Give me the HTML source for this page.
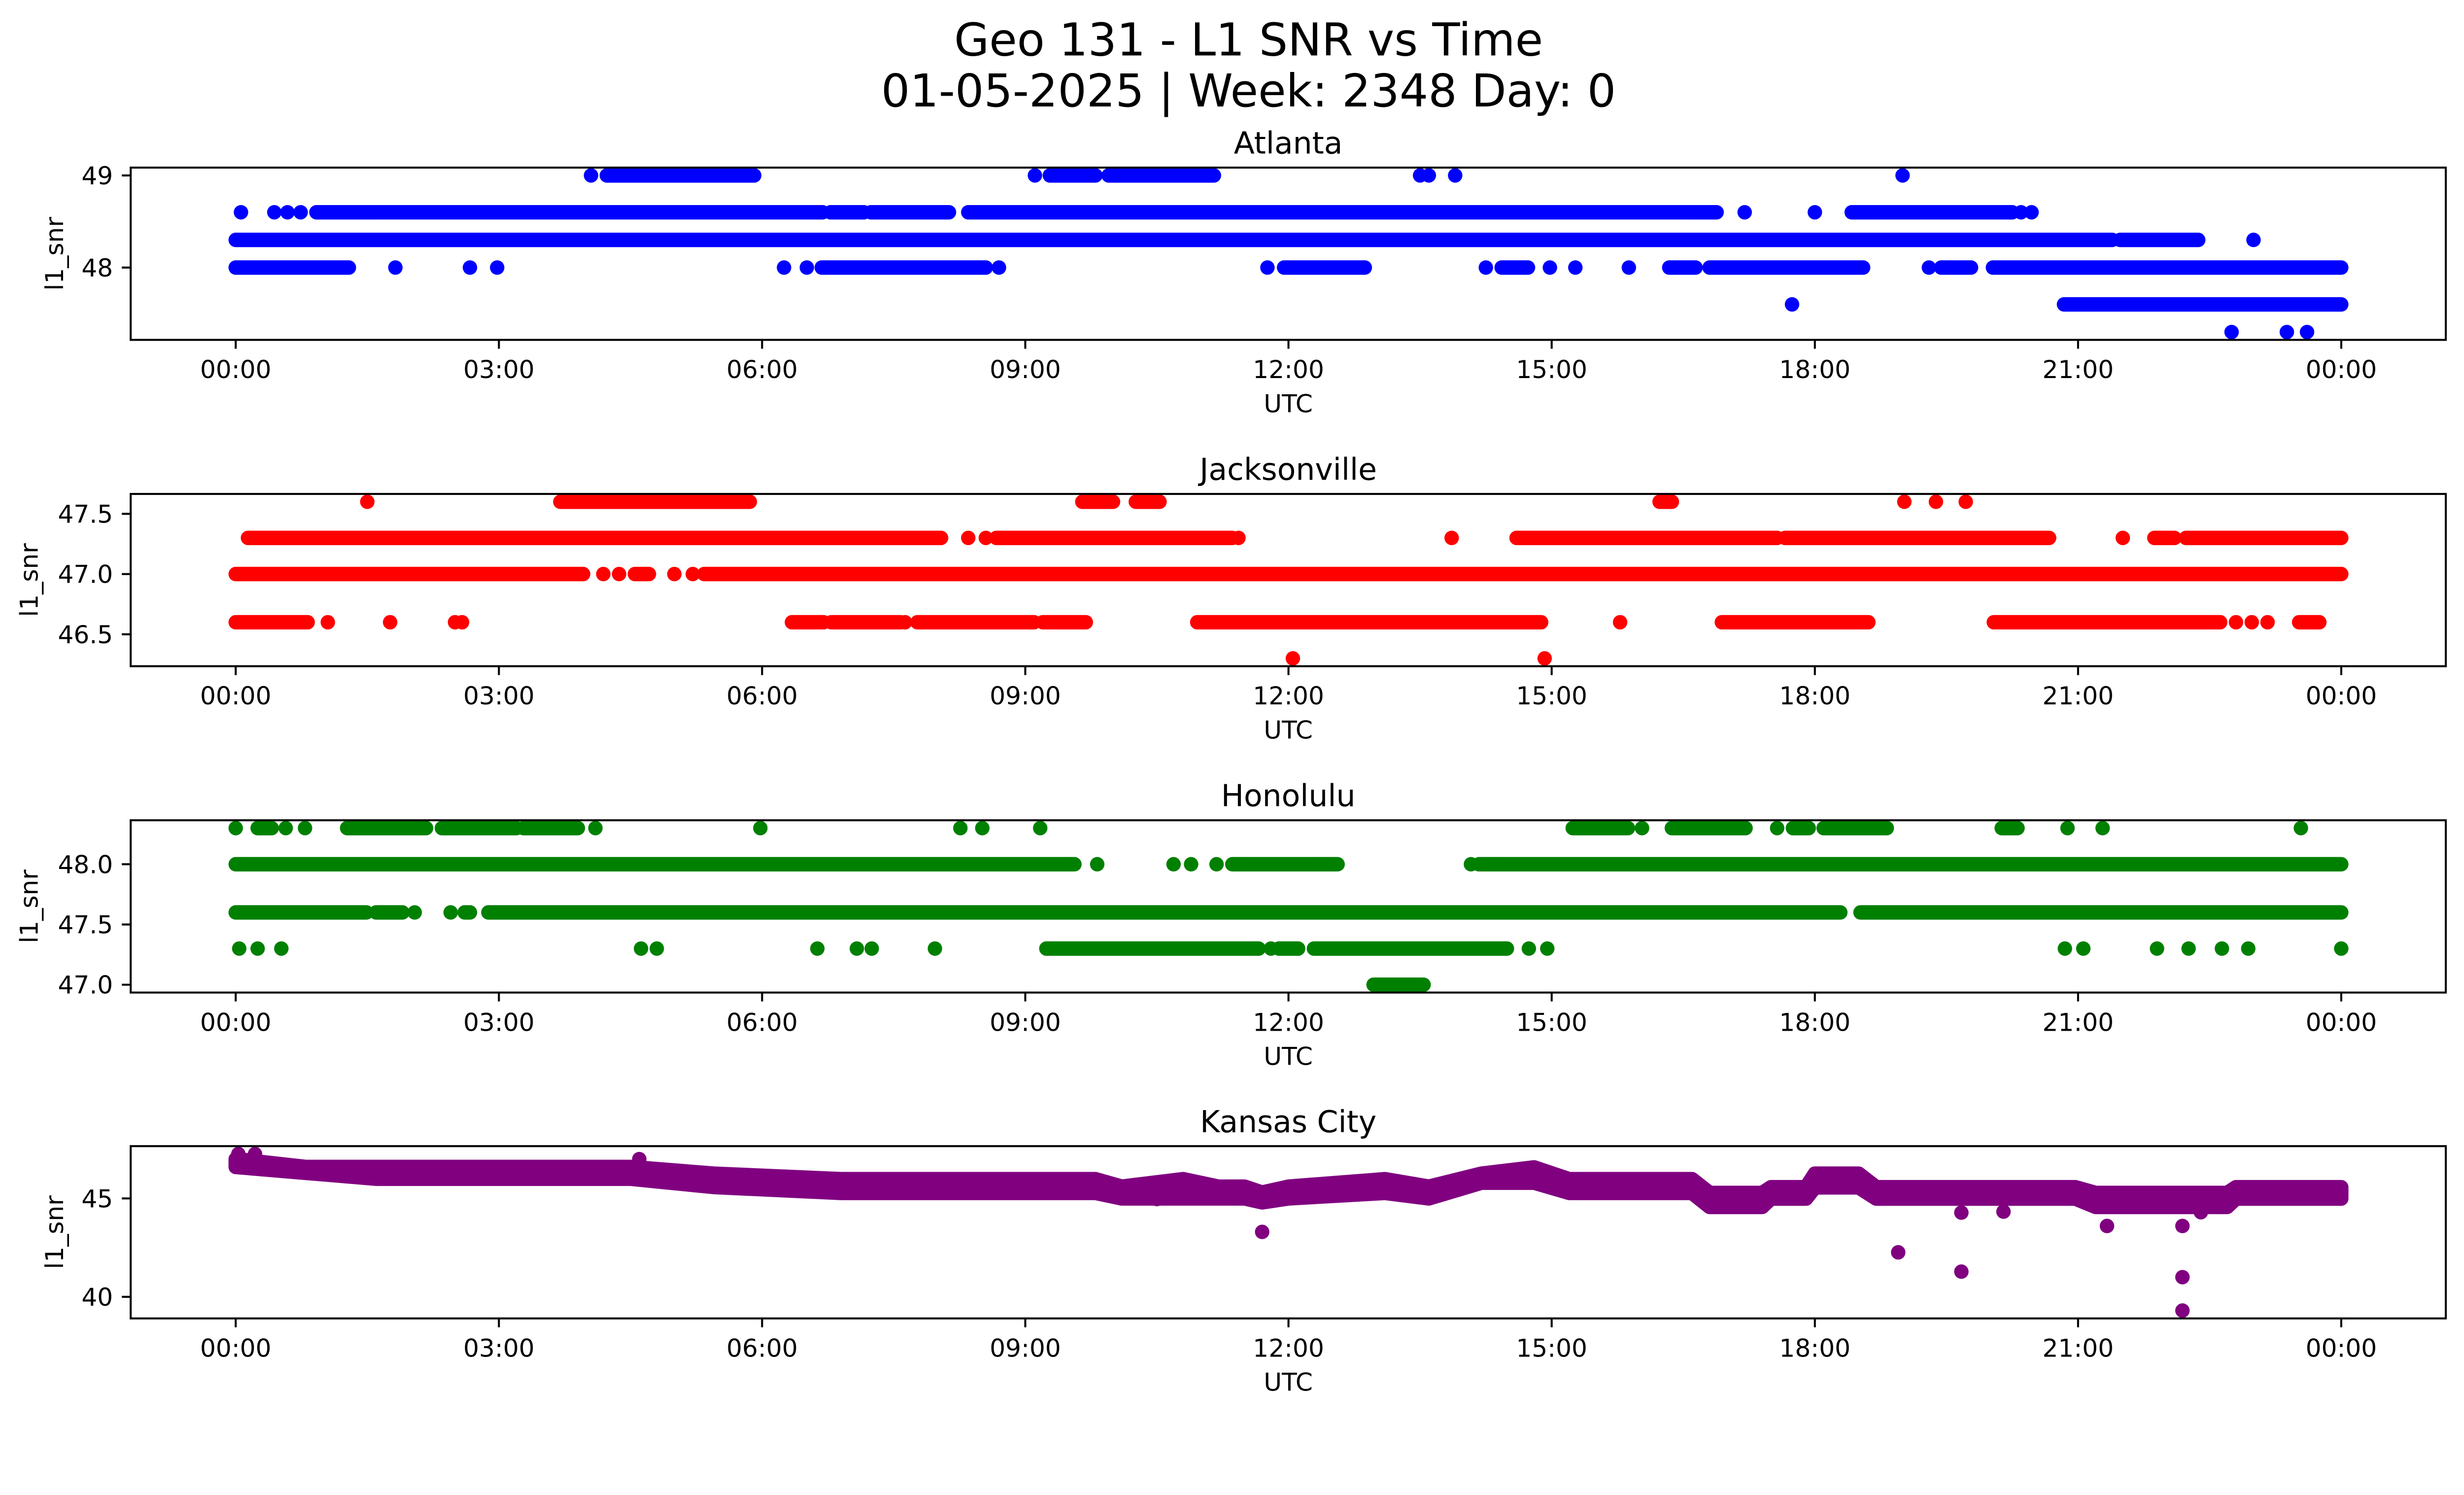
<!DOCTYPE html>
<html><head><meta charset="utf-8"><style>
html,body{margin:0;padding:0;background:#fff;overflow:hidden;}
svg{position:absolute;left:0;top:0;width:100vw;height:auto;display:block;font-family:"DejaVu Sans","Liberation Sans",sans-serif;}
</style></head><body>
<svg id="fig" viewBox="0 0 5279 3033" preserveAspectRatio="xMinYMin meet" xmlns="http://www.w3.org/2000/svg">
<rect width="5279" height="3033" fill="#fff"/>
<text x="2675" y="119" font-size="97" text-anchor="middle">Geo 131 - L1 SNR vs Time</text>
<text x="2675" y="228" font-size="97" text-anchor="middle">01-05-2025 | Week: 2348 Day: 0</text>
</svg>
<script>
// ---- shared axis data ----
const xTickHours = [0,3,6,9,12,15,18,21,24];
const xTickLabels = ["00:00","03:00","06:00","09:00","12:00","15:00","18:00","21:00","00:00"];

// ---- Atlanta ----
const atlRunStart = [4.23,9.28,9.95, 0.92,6.78,7.24,8.35,18.42, 0,21.48, 0,6.68,11.95,14.43,16.34,16.8,19.44,20.03, 20.84];
const atlRunEnd   = [5.91,9.80,11.15, 6.69,7.16,8.13,16.88,20.25, 21.39,22.37, 1.29,8.55,12.87,14.73,16.64,18.55,19.78,24, 24];
const atlRunVal   = [49,49,49, 48.6,48.6,48.6,48.6,48.6, 48.3,48.3, 48,48,48,48,48,48,48,48, 47.6];
const atlPtTime = [4.05,9.11,13.5,13.6,13.9,19.0, 0.06,0.44,0.59,0.74,17.2,18.0,20.35,20.47, 23.0, 1.82,2.67,2.98,6.25,6.51,8.70,11.76,14.25,14.98,15.27,15.88,19.3, 17.74, 22.75,23.38,23.61];
const atlPtVal  = [49,49,49,49,49,49, 48.6,48.6,48.6,48.6,48.6,48.6,48.6,48.6, 48.3, 48,48,48,48,48,48,48,48,48,48,48,48, 47.6, 47.3,47.3,47.3];
const atlYTicks = [48,49];
const atlYTickLabels = ["48","49"];

// ---- Jacksonville ----
const jaxRunStart = [3.7,9.65,10.26,16.23, 0.14,8.67,14.6,17.66,21.87,22.23, 0,4.55,5.34, 0,6.34,6.79,7.77,9.2,10.96,16.94,20.04,23.52];
const jaxRunEnd   = [5.86,10.0,10.53,16.37, 8.04,11.36,17.57,20.67,22.1,24, 3.96,4.71,24, 0.82,6.7,7.58,9.1,9.69,14.88,18.61,22.62,23.75];
const jaxRunVal   = [47.6,47.6,47.6,47.6, 47.3,47.3,47.3,47.3,47.3,47.3, 47,47,47, 46.6,46.6,46.6,46.6,46.6,46.6,46.6,46.6,46.6];
const jaxPtTime = [1.5,19.02,19.38,19.72, 8.35,8.55,11.43,13.86,21.51, 4.19,4.37,5.0,5.21, 1.05,1.76,2.5,2.58,7.63,15.78,22.8,22.98,23.16, 12.05,14.92];
const jaxPtVal  = [47.6,47.6,47.6,47.6, 47.3,47.3,47.3,47.3,47.3, 47,47,47,47, 46.6,46.6,46.6,46.6,46.6,46.6,46.6,46.6,46.6, 46.3,46.3];
const jaxYTicks = [46.5,47.0,47.5];
const jaxYTickLabels = ["46.5","47.0","47.5"];

// ---- Honolulu ----
const honRunStart = [0.25,1.27,2.35,3.28,15.24,16.37,17.75,18.1,20.13, 0,11.36,14.17, 0,1.6,2.61,2.88,18.52, 9.24,11.89,12.29, 12.97];
const honRunEnd   = [0.41,2.17,3.2,3.9,15.87,17.21,17.93,18.82,20.31, 9.56,12.56,24, 1.49,1.9,2.67,18.29,24, 11.66,12.11,14.49, 13.54];
const honRunVal   = [48.3,48.3,48.3,48.3,48.3,48.3,48.3,48.3,48.3, 48,48,48, 47.6,47.6,47.6,47.6,47.6, 47.3,47.3,47.3, 47.0];
const honPtTime = [0,0.57,0.79,4.1,5.98,8.26,8.51,9.17,16.03,17.57,20.88,21.28,23.54, 9.82,10.69,10.89,11.18,14.08, 2.04,2.45, 0.04,0.25,0.52,4.62,4.8,6.63,7.08,7.25,7.97,11.8,14.74,14.95,20.85,21.06,21.9,22.26,22.64,22.94,24.0];
const honPtVal  = [48.3,48.3,48.3,48.3,48.3,48.3,48.3,48.3,48.3,48.3,48.3,48.3,48.3, 48,48,48,48,48, 47.6,47.6, 47.3,47.3,47.3,47.3,47.3,47.3,47.3,47.3,47.3,47.3,47.3,47.3,47.3,47.3,47.3,47.3,47.3,47.3,47.3];
const honYTicks = [47.0,47.5,48.0];
const honYTickLabels = ["47.0","47.5","48.0"];

// ---- Kansas City (dense band: upper/lower envelope of point centres, plus outliers) ----
const kcBandTime = [0,0.8,1.6,4.5,5.45,6.9,9.8,10.1,10.8,11.2,11.5,11.7,12.0,13.1,13.6,14.2,14.8,15.2,16.6,16.8,17.4,17.5,17.9,18.0,18.5,18.7,20.97,21.2,22.7,22.8,24];
const kcBandHigh = [47.0,46.6,46.6,46.6,46.26,45.98,45.98,45.6,45.98,45.6,45.6,45.3,45.6,45.98,45.6,46.26,46.58,45.98,45.98,45.28,45.28,45.57,45.57,46.26,46.26,45.57,45.57,45.28,45.28,45.57,45.57];
const kcBandLow  = [46.6,46.3,46.0,46.0,45.58,45.28,45.28,45.0,45.0,45.0,45.0,44.8,45.0,45.28,45.0,45.8,45.8,45.28,45.28,44.57,44.57,44.99,44.99,45.56,45.56,44.99,44.99,44.57,44.57,44.99,44.99];
const kcPtTime = [0.03,0.22,4.6,10.5,11.7,18.95,19.67,19.67,20.15,21.33,22.19,22.19,22.19,22.4];
const kcPtVal  = [47.26,47.26,47.0,44.97,43.3,42.26,44.28,41.28,44.33,43.6,43.6,41.0,39.3,44.3];
const kcYTicks = [40,45];
const kcYTickLabels = ["40","45"];

// ---- layout ----
const NS = "http://www.w3.org/2000/svg";
const svg = document.getElementById("fig");
const AX_L = 280, AX_R = 5240, AX_H = 369;
const X0 = 505, PX_PER_H = (5016 - 505) / 24;
const DOT_R = 15.5;
function xScale(h){ return X0 + h * PX_PER_H; }
function mk(tag, attrs){ const e = document.createElementNS(NS, tag); for (const k in attrs) e.setAttribute(k, attrs[k]); return e; }

function drawPanel(cfg){
  const top = cfg.top, bot = top + AX_H;
  const g = mk("g", {});
  
  
  svg.appendChild(g);
  let vals = cfg.ptVal.concat(cfg.runVal || []);
  if (cfg.bandLo) vals = vals.concat(cfg.bandLo, cfg.bandHi);
  const mn = Math.min(...vals), mx = Math.max(...vals), r = mx - mn;
  const lo = mn - 0.05 * r, hi = mx + 0.05 * r;
  const yScale = v => bot - (v - lo) / (hi - lo) * AX_H;

  const title = mk("text", {x: (AX_L + AX_R) / 2, y: top - 30, "font-size": 65, "text-anchor": "middle"});
  
  
  title.textContent = cfg.title; g.appendChild(title);

  const marks = mk("g", {fill: cfg.color, stroke: "none"});
  
  
  g.appendChild(marks);

  if (cfg.bandT){
    let pts = [];
    for (let i = 0; i < cfg.bandT.length; i++) pts.push(xScale(cfg.bandT[i]) + "," + yScale(cfg.bandHi[i]));
    for (let i = cfg.bandT.length - 1; i >= 0; i--) pts.push(xScale(cfg.bandT[i]) + "," + yScale(cfg.bandLo[i]));
    const band = mk("polygon", {points: pts.join(" "), fill: cfg.color, stroke: cfg.color, "stroke-width": DOT_R * 2, "stroke-linejoin": "round"});
    
    
    marks.appendChild(band);
  }
  if (cfg.runStart){
    for (let i = 0; i < cfg.runStart.length; i++){
      const y = yScale(cfg.runVal[i]);
      const ln = mk("line", {x1: xScale(cfg.runStart[i]), x2: xScale(cfg.runEnd[i]), y1: y, y2: y, stroke: cfg.color, "stroke-width": DOT_R * 2, "stroke-linecap": "round"});
      
      
      marks.appendChild(ln);
    }
  }
  for (let i = 0; i < cfg.ptTime.length; i++){
    const c = mk("circle", {cx: xScale(cfg.ptTime[i]), cy: yScale(cfg.ptVal[i]), r: DOT_R});
    
    
    marks.appendChild(c);
  }

  const frame = mk("rect", {x: AX_L, y: top, width: AX_R - AX_L, height: AX_H, fill: "none", stroke: "#000", "stroke-width": 4.3});
  
  
  g.appendChild(frame);

  for (let i = 0; i < xTickHours.length; i++){
    const x = xScale(xTickHours[i]);
    const t = mk("line", {x1: x, x2: x, y1: bot, y2: bot + 19, stroke: "#000", "stroke-width": 4.3});
    
    
    g.appendChild(t);
    const lb = mk("text", {x: x, y: bot + 82, "font-size": 53, "text-anchor": "middle"});
    
    
    lb.textContent = xTickLabels[i]; g.appendChild(lb);
  }
  for (let i = 0; i < cfg.yTicks.length; i++){
    const y = yScale(cfg.yTicks[i]);
    const t = mk("line", {x1: AX_L - 19, x2: AX_L, y1: y, y2: y, stroke: "#000", "stroke-width": 4.3});
    
    
    g.appendChild(t);
    const lb = mk("text", {x: AX_L - 38, y: y + 19, "font-size": 53, "text-anchor": "end"});
    
    
    lb.textContent = cfg.yTickLabels[i]; g.appendChild(lb);
  }
  const xl = mk("text", {x: (AX_L + AX_R) / 2, y: bot + 155, "font-size": 53, "text-anchor": "middle"});
  
  
  xl.textContent = "UTC"; g.appendChild(xl);
  const yc = top + AX_H / 2;
  const yl = mk("text", {x: cfg.ylabelX, y: yc, "font-size": 53, "text-anchor": "middle", transform: "rotate(-90 " + cfg.ylabelX + " " + yc + ")"});
  
  
  yl.textContent = "l1_snr"; g.appendChild(yl);
}

drawPanel({key: "atlanta", title: "Atlanta", top: 359, color: "#0000ff", ylabelX: 135,
  runStart: atlRunStart, runEnd: atlRunEnd, runVal: atlRunVal, ptTime: atlPtTime, ptVal: atlPtVal,
  yTicks: atlYTicks, yTickLabels: atlYTickLabels});
drawPanel({key: "jacksonville", title: "Jacksonville", top: 1058, color: "#ff0000", ylabelX: 81,
  runStart: jaxRunStart, runEnd: jaxRunEnd, runVal: jaxRunVal, ptTime: jaxPtTime, ptVal: jaxPtVal,
  yTicks: jaxYTicks, yTickLabels: jaxYTickLabels});
drawPanel({key: "honolulu", title: "Honolulu", top: 1757, color: "#008000", ylabelX: 81,
  runStart: honRunStart, runEnd: honRunEnd, runVal: honRunVal, ptTime: honPtTime, ptVal: honPtVal,
  yTicks: honYTicks, yTickLabels: honYTickLabels});
drawPanel({key: "kansas-city", title: "Kansas City", top: 2455, color: "#800080", ylabelX: 135,
  bandT: kcBandTime, bandHi: kcBandHigh, bandLo: kcBandLow,
  ptTime: kcPtTime, ptVal: kcPtVal,
  yTicks: kcYTicks, yTickLabels: kcYTickLabels});
</script>
</body></html>
